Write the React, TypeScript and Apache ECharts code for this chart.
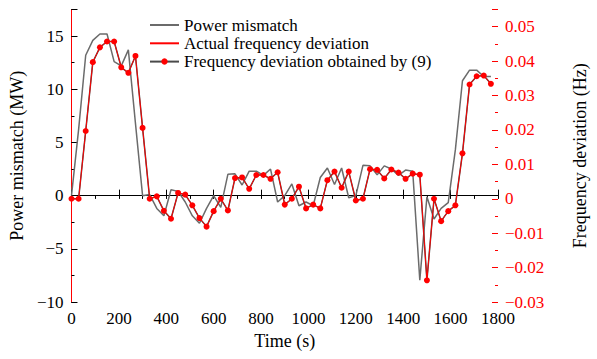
import React, { useEffect, useRef } from "react";
import * as echarts from "echarts";

const times = [
  0, 30, 60, 90, 120, 150, 180, 210, 240, 270,
  300, 330, 360, 390, 420, 450, 480, 510, 540, 570,
  600, 630, 660, 690, 720, 750, 780, 810, 840, 870,
  900, 930, 960, 990, 1020, 1050, 1080, 1110, 1140, 1170,
  1200, 1230, 1260, 1290, 1320, 1350, 1380, 1410, 1440, 1470,
  1500, 1530, 1560, 1590, 1620, 1650, 1680, 1710, 1740, 1770,
];

// Power mismatch (MW)
const powerMismatch = [
  0, 6.2, 13.2, 14.6, 15.2, 15.2, 12.6, 12.2, 13.7, 6.8,
  0, 0.1, -1.2, -1.9, 0.55, 0.4, -0.6, -1.9, -2.6, -1.2,
  0, -1.1, 2.0, 2.05, 1.0, 2.3, 2.3, 1.9, 2.5, -0.6,
  0, 1.1, -0.95, -0.6, -0.95, 1.7, 2.6, 1.05, 2.6, -0.2,
  0, 2.85, 2.8, 1.95, 2.8, 2.5, 1.9, 2.4, 2.3, -7.95,
  -0.1, -2.2, -1.2, -0.65, 4.3, 10.8, 11.8, 11.8, 11.2, 11.2,
];

// Actual frequency deviation (Hz)
const freqActual = [
  0, 0, 0.0197, 0.0397, 0.044, 0.0457, 0.0457, 0.0382, 0.0366, 0.0415,
  0.0206, 0, 0.0007, -0.0035, -0.0058, 0.0017, 0.0012, -0.0019, -0.0056, -0.0081,
  -0.0036, 0, -0.0034, 0.006, 0.0062, 0.0029, 0.0069, 0.0069, 0.0058, 0.0077,
  -0.0017, 0, 0.0035, -0.0028, -0.0017, -0.0028, 0.0054, 0.0079, 0.0032, 0.0079,
  -0.0005, 0, 0.0086, 0.0084, 0.0059, 0.0085, 0.0076, 0.0058, 0.0073, 0.007,
  -0.0237, 0, -0.0065, -0.0036, -0.0019, 0.0132, 0.0332, 0.0356, 0.0358, 0.0334,
];

// Frequency deviation obtained by (9) (Hz)
const freqEstimated = [
  0, 0, 0.0197, 0.0397, 0.044, 0.0457, 0.0457, 0.0382, 0.0366, 0.0415,
  0.0206, 0, 0.0007, -0.0035, -0.0058, 0.0017, 0.0012, -0.0019, -0.0056, -0.0081,
  -0.0036, 0, -0.0034, 0.006, 0.0062, 0.0029, 0.0069, 0.0069, 0.0058, 0.0077,
  -0.0017, 0, 0.0035, -0.0028, -0.0017, -0.0028, 0.0054, 0.0079, 0.0032, 0.0079,
  -0.0005, 0, 0.0086, 0.0084, 0.0059, 0.0085, 0.0076, 0.0058, 0.0073, 0.007,
  -0.0237, 0, -0.0065, -0.0036, -0.0019, 0.0132, 0.0332, 0.0356, 0.0358, 0.0334,
];

const seriesNames = [
  "Power mismatch",
  "Actual frequency deviation",
  "Frequency deviation obtained by (9)",
];

const FONT = "'Liberation Serif', 'Times New Roman', serif";
const RED = "#ff0000";

const minus = (s: string) => s.replace("-", "\u2212");

export default function App() {
  const ref = useRef<HTMLDivElement>(null);

  useEffect(() => {
    if (!ref.current) return;
    const chart = echarts.init(ref.current, undefined, { renderer: "svg" });

    const pair = (arr: number[]) => times.map((t, i) => [t, arr[i]]);

    const hiddenLabel = { show: false };
    const tickAxisX = (position: string, interval: number, length: number) => ({
      type: "value",
      position,
      min: 0,
      max: 1800,
      interval,
      axisLine: { show: false },
      axisTick: { show: true, inside: true, length, lineStyle: { color: "#000" } },
      axisLabel: hiddenLabel,
      splitLine: { show: false },
    });
    const tickAxisY = (
      position: string,
      min: number,
      max: number,
      interval: number,
      length: number,
      color: string
    ) => ({
      type: "value",
      position,
      min,
      max,
      interval,
      axisLine: { show: false },
      axisTick: { show: true, inside: true, length, lineStyle: { color } },
      axisLabel: hiddenLabel,
      splitLine: { show: false },
    });

    const option: any = {
      animation: false,
      backgroundColor: "#fff",
      grid: { left: 71, right: 84, top: 9.5, bottom: 57 },
      legend: {
        orient: "vertical",
        left: 149,
        top: 16.5,
        padding: 0,
        itemWidth: 29,
        itemHeight: 8,
        itemGap: 1.3,
        data: [
          { name: seriesNames[0], itemStyle: { opacity: 0 } },
          { name: seriesNames[1], itemStyle: { opacity: 0 } },
          { name: seriesNames[2] },
        ],
        textStyle: { fontFamily: FONT, fontSize: 17, color: "#000", lineHeight: 17 },
      },
      xAxis: [
        {
          type: "value",
          position: "bottom",
          min: 0,
          max: 1800,
          interval: 200,
          axisLine: { lineStyle: { color: "#000", width: 1 } },
          axisTick: { show: false },
          axisLabel: {
            color: "#000",
            fontFamily: FONT,
            fontSize: 17,
            margin: 8,
            formatter: (v: number) => String(v),
          },
          splitLine: { show: false },
          name: "Time (s)",
          nameLocation: "middle",
          nameGap: 29,
          nameTextStyle: { fontFamily: FONT, fontSize: 18, color: "#000" },
        },
        tickAxisX("bottom", 100, 3),
        tickAxisX("bottom", 200, 6),
        {
          type: "value",
          position: "top",
          min: 0,
          max: 1800,
          interval: 100,
          axisLine: { lineStyle: { color: "#000", width: 1 } },
          axisTick: { show: true, inside: true, length: 3, lineStyle: { color: "#000" } },
          axisLabel: hiddenLabel,
          splitLine: { show: false },
        },
      ],
      yAxis: [
        {
          type: "value",
          position: "left",
          min: -10,
          max: 17.5,
          interval: 5,
          axisLine: { show: true, lineStyle: { color: "#000", width: 1 } },
          axisTick: { show: false },
          axisLabel: {
            color: "#000",
            fontFamily: FONT,
            fontSize: 17,
            margin: 8,
            showMaxLabel: false,
            formatter: (v: number) => minus(String(v)),
          },
          splitLine: { show: false },
          name: "Power mismatch (MW)",
          nameLocation: "middle",
          nameRotate: 90,
          nameGap: 44,
          nameTextStyle: { fontFamily: FONT, fontSize: 18, color: "#000" },
        },
        {
          type: "value",
          position: "right",
          min: -0.03,
          max: 0.055,
          interval: 0.01,
          axisLine: { show: true, lineStyle: { color: RED, width: 1 } },
          axisTick: { show: false },
          axisLabel: {
            color: RED,
            fontFamily: FONT,
            fontSize: 17,
            margin: 7,
            showMaxLabel: false,
            formatter: (v: number) =>
              Math.abs(v) < 1e-9 ? "0" : minus(v.toFixed(2)),
          },
          splitLine: { show: false },
          name: "Frequency deviation (Hz)",
          nameLocation: "middle",
          nameRotate: 90,
          nameGap: 73,
          nameTextStyle: { fontFamily: FONT, fontSize: 18, color: "#000" },
        },
        tickAxisY("left", -10, 17.5, 2.5, 3, "#000"),
        tickAxisY("left", -10, 17.5, 5, 6, "#000"),
        tickAxisY("right", -0.03, 0.055, 0.005, 3, RED),
        tickAxisY("right", -0.03, 0.055, 0.01, 6, RED),
      ],
      series: [
        {
          type: "line",
          name: seriesNames[0],
          xAxisIndex: 0,
          yAxisIndex: 0,
          data: pair(powerMismatch),
          symbol: "none",
          lineStyle: { color: "#6b6b6b", width: 1.5 },
          itemStyle: { color: "#6b6b6b" },
          z: 2,
        },
        {
          type: "line",
          name: seriesNames[1],
          xAxisIndex: 0,
          yAxisIndex: 1,
          data: pair(freqActual),
          symbol: "none",
          lineStyle: { color: RED, width: 1 },
          itemStyle: { color: RED },
          z: 4,
        },
        {
          type: "line",
          name: seriesNames[2],
          xAxisIndex: 0,
          yAxisIndex: 1,
          data: pair(freqEstimated),
          symbol: "circle",
          symbolSize: 6,
          showSymbol: true,
          lineStyle: { color: "#4a4a4a", width: 1.5 },
          itemStyle: { color: RED },
          z: 3,
        },
      ],
    };

    chart.setOption(option);
    return () => chart.dispose();
  }, []);

  return (
    <div
      ref={ref}
      style={{ position: "absolute", left: 0, top: 0, width: 597, height: 359 }}
    />
  );
}
